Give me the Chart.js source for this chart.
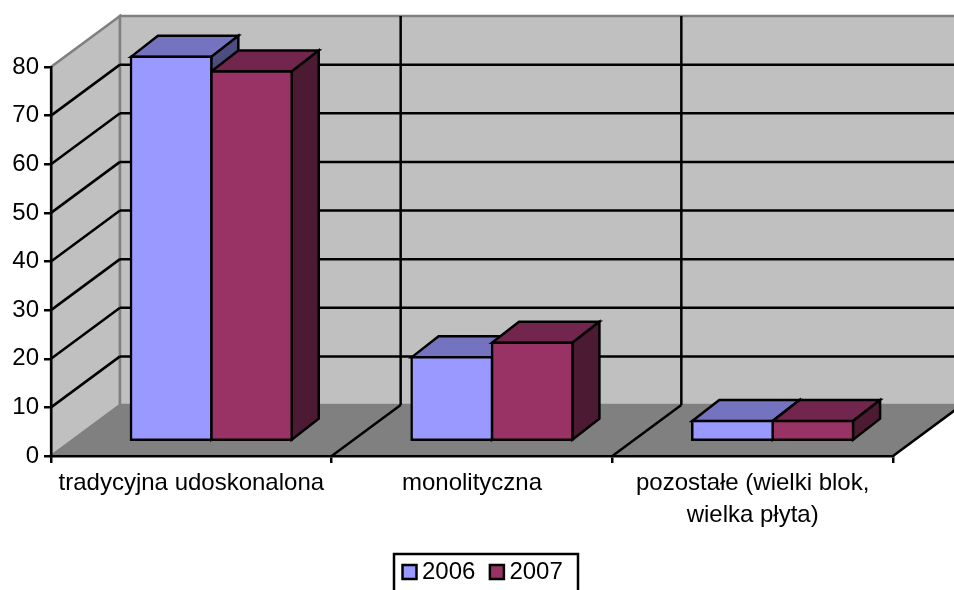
<!DOCTYPE html>
<html>
<head>
<meta charset="utf-8">
<style>
    html, body { margin: 0; padding: 0; background: #ffffff; overflow: hidden; }
    canvas { display: block; }
</style>
<script src="https://cdn.jsdelivr.net/npm/chart.js@4"></script>
</head>
<body>
<canvas id="chart3d" width="954" height="590"></canvas>
<script>
const categories = ['tradycyjna udoskonalona', 'monolityczna', ['pozostałe (wielki blok,', 'wielka płyta)']];
const years = ['2006', '2007'];
const values2006 = [79, 17.2, 4.1];
const values2007 = [76, 20.2, 4.1];
const frontColors = ['#9999ff', '#993366'];
const topColors = ['#7373bf', '#73264d'];
const sideColors = ['#4d4d80', '#4d1a33'];

const WALL_DX = 69, WALL_DY = 51;   // glebokosc sciany
const BAR_OFF_X = 20, BAR_OFF_Y = 15; // odsuniecie slupka od przedniej krawedzi
const BAR_DX = 27, BAR_DY = 21;     // glebokosc slupka
const FONT = 'Liberation Sans';
const FONT_SIZE = 24;
const LINE_W = 2.5;

function poly(ctx, pts, fill, stroke) {
    ctx.beginPath();
    pts.forEach((p, i) => i ? ctx.lineTo(p[0], p[1]) : ctx.moveTo(p[0], p[1]));
    ctx.closePath();
    if (fill) { ctx.fillStyle = fill; ctx.fill(); }
    if (stroke) { ctx.strokeStyle = stroke; ctx.lineWidth = LINE_W; ctx.stroke(); }
}

function line(ctx, x1, y1, x2, y2, color) {
    ctx.beginPath();
    ctx.moveTo(x1, y1);
    ctx.lineTo(x2, y2);
    ctx.strokeStyle = color;
    ctx.lineWidth = LINE_W;
    ctx.stroke();
}

// zidovi, pod i mreza
const wallsPlugin = {
    id: 'walls',
    beforeDraw(chart) {
        const { ctx, scales: { x, y }, width } = chart;
        const left = x.left, right = x.right, bottom = y.bottom, top = y.top;
        ctx.save();
        ctx.lineJoin = 'miter';
        poly(ctx, [[left, bottom], [left + WALL_DX, bottom - WALL_DY], [left + WALL_DX, top - WALL_DY], [left, top]], '#c0c0c0', '#808080');
        poly(ctx, [[left + WALL_DX, top - WALL_DY], [width + 10, top - WALL_DY], [width + 10, bottom - WALL_DY], [left + WALL_DX, bottom - WALL_DY]], '#c0c0c0', '#808080');
        poly(ctx, [[left, bottom], [left + WALL_DX, bottom - WALL_DY], [right + WALL_DX, bottom - WALL_DY], [right, bottom]], '#808080');

        y.ticks.forEach(t => {
            if (t.value === 0 || t.value === y.max) return;
            const py = y.getPixelForValue(t.value);
            line(ctx, left, py, left + WALL_DX, py - WALL_DY, '#000000');
            line(ctx, left + WALL_DX, py - WALL_DY, width + 10, py - WALL_DY, '#000000');
        });

        // granice kategorija
        const step = (right - left) / categories.length;
        for (let i = 1; i <= categories.length; i++) {
            const px = left + step * i;
            line(ctx, px, bottom, px + WALL_DX, bottom - WALL_DY, '#000000');
            if (i < categories.length) line(ctx, px + WALL_DX, bottom - WALL_DY, px + WALL_DX, top - WALL_DY, '#000000');
        }
        ctx.restore();
    },
    beforeDatasetsDraw(chart) {
        const { ctx } = chart;
        ctx.save();
        ctx.translate(BAR_OFF_X, -BAR_OFF_Y);
        ctx.lineJoin = 'miter';
        chart.data.datasets.forEach((ds, di) => {
            chart.getDatasetMeta(di).data.forEach(bar => {
                const l = bar.x - bar.width / 2, r = bar.x + bar.width / 2;
                const t = bar.y, b = bar.base;
                poly(ctx, [[l, t], [l + BAR_DX, t - BAR_DY], [r + BAR_DX, t - BAR_DY], [r, t]], topColors[di], '#000000');
                poly(ctx, [[r, t], [r + BAR_DX, t - BAR_DY], [r + BAR_DX, b - BAR_DY], [r, b]], sideColors[di], '#000000');
            });
        });
    },
    afterDatasetsDraw(chart) {
        chart.ctx.restore();
    },
    afterLayout(chart) {
        // legenda nije na sredini grafa
        const lg = chart.legend;
        lg.left = 388;
        lg.right = 388 + lg.width;
        lg.top = 539;
    },
    afterDraw(chart) {
        const { ctx } = chart;
        ctx.save();
        ctx.strokeStyle = '#000000';
        ctx.lineWidth = LINE_W;
        ctx.strokeRect(394, 554, 184, 50);
        ctx.restore();
    }
};

const barStyle = { borderColor: '#000000', borderWidth: LINE_W, borderSkipped: false, inflateAmount: LINE_W / 2, clip: false };

new Chart(document.getElementById('chart3d'), {
    type: 'bar',
    data: {
        labels: categories,
        datasets: [
            { label: years[0], data: values2006, backgroundColor: frontColors[0], ...barStyle },
            { label: years[1], data: values2007, backgroundColor: frontColors[1], ...barStyle }
        ]
    },
    plugins: [wallsPlugin],
    options: {
        responsive: false,
        animation: false,
        layout: { padding: { top: 67, left: 0, right: 61, bottom: -21 } },
        categoryPercentage: 0.573,
        barPercentage: 1,
        scales: {
            x: {
                afterFit(s) { s.height = 100; },
                border: { color: '#000000', width: LINE_W },
                grid: { drawOnChartArea: false, color: '#000000', lineWidth: LINE_W, tickLength: 7, tickColor: '#000000' },
                ticks: { color: '#000000', maxRotation: 0, minRotation: 0, padding: 5, font: { family: FONT, size: FONT_SIZE, lineHeight: 1.32 } }
            },
            y: {
                min: 0,
                max: 80,
                afterFit(s) { s.width = 51; },
                border: { color: '#000000', width: LINE_W },
                grid: { drawOnChartArea: false, color: '#000000', lineWidth: LINE_W, tickLength: 7, tickColor: '#000000' },
                ticks: { stepSize: 10, color: '#000000', padding: 5, font: { family: FONT, size: FONT_SIZE } }
            }
        },
        plugins: {
            tooltip: { enabled: false },
            legend: {
                position: 'bottom',
                align: 'start',
                labels: { color: '#000000', usePointStyle: true, pointStyle: 'rect', boxWidth: 1, boxHeight: 14, padding: 21, font: { family: FONT, size: FONT_SIZE } }
            }
        }
    }
});
</script>
</body>
</html>
